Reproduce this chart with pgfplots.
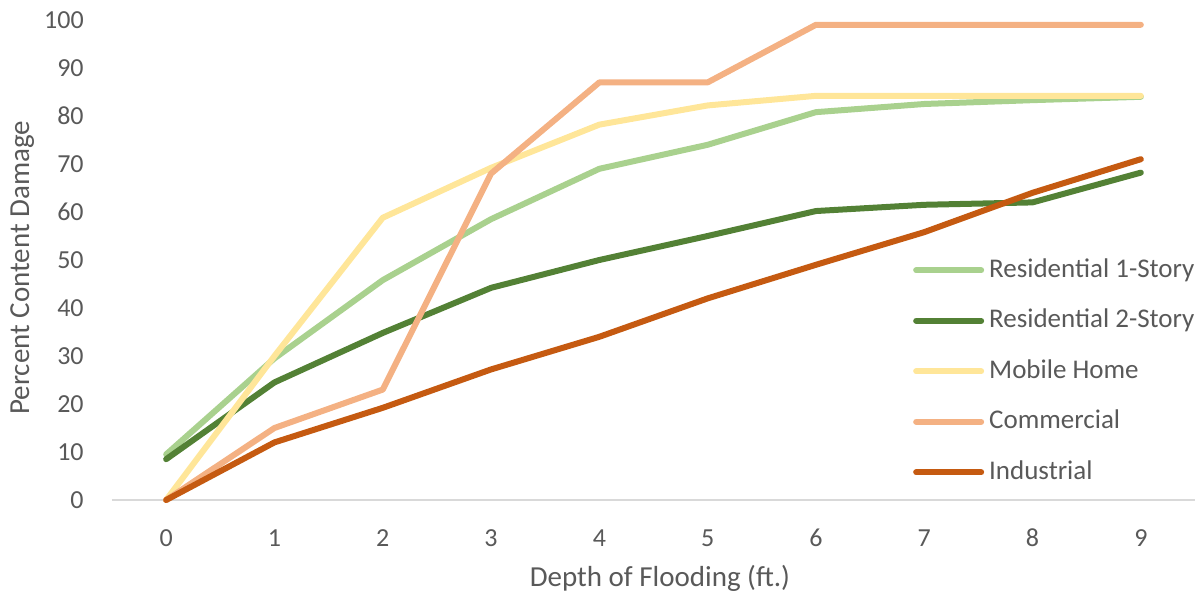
\documentclass[border=0pt]{standalone}
\usepackage{pgfplots}
\pgfplotsset{compat=1.18}
\usepackage{fontspec}
\setmainfont{Carlito}
\definecolor{resone}{HTML}{A9D18E}
\definecolor{restwo}{HTML}{538135}
\definecolor{mobile}{HTML}{FFE699}
\definecolor{comm}{HTML}{F4B183}
\definecolor{indus}{HTML}{C55A11}
\definecolor{txt}{HTML}{595959}
\definecolor{axl}{HTML}{D9D9D9}
\begin{document}
\begin{tikzpicture}
\begin{axis}[
  scale only axis,
  width=1083bp, height=480bp,
  xmin=-0.5, xmax=9.5, ymin=0, ymax=100,
  xtick={0,...,9}, ytick={0,10,...,100},
  axis x line=bottom, axis y line=left,
  x axis line style={draw=axl, line width=2bp, -},
  y axis line style={draw=none},
  tick style={draw=none},
  /pgf/number format/assume math mode=true,
  tick label style={font=\fontsize{26bp}{30bp}\selectfont, text=txt, inner sep=0pt},
  yticklabel style={anchor=east, xshift=-26bp},
  xticklabel style={anchor=center, yshift=-36bp},
  xlabel={Depth of Flooding (ft.)},
  ylabel={Percent Content Damage},
  every axis x label/.style={font=\fontsize{29bp}{34bp}\selectfont, text=txt, inner sep=0pt,
    at={(axis description cs:0.506,-0.1792)}, anchor=base},
  every axis y label/.style={font=\fontsize{29bp}{34bp}\selectfont, text=txt, inner sep=0pt,
    at={(axis description cs:-0.0766,0.484)}, rotate=90, anchor=base},
  clip=false,
  legend cell align=left,
  legend style={at={(axis description cs:0.7396,0.506)}, anchor=north west, draw=none, fill=none,
    font=\fontsize{27bp}{32bp}\selectfont, text=txt, row sep=24.5bp, column sep=5bp,
    inner sep=0pt, nodes={inner sep=0pt, text height=20bp, text depth=6bp}},
  legend image code/.code={\draw[#1, line cap=round] (0bp,0bp) -- (65bp,0bp);},
  every axis plot/.append style={line width=6bp, line join=round, line cap=round},
]
\addplot[resone] coordinates {(0,9.5) (1,29.5) (2,45.8) (3,58.5) (4,69) (5,74) (6,80.8) (7,82.5) (8,83.3) (9,84)};
\addlegendentry{Residential 1-Story}
\addplot[restwo] coordinates {(0,8.5) (1,24.5) (2,34.8) (3,44.2) (4,50) (5,55) (6,60.2) (7,61.5) (8,62) (9,68.2)};
\addlegendentry{Residential 2-Story}
\addplot[mobile] coordinates {(0,0) (1,30) (2,58.8) (3,69.2) (4,78.2) (5,82.2) (6,84.2) (7,84.2) (8,84.2) (9,84.2)};
\addlegendentry{Mobile Home}
\addplot[comm] coordinates {(0,0) (1,15) (2,23) (3,68) (4,87) (5,87) (6,99) (7,99) (8,99) (9,99)};
\addlegendentry{Commercial}
\addplot[indus] coordinates {(0,0) (1,12) (2,19.2) (3,27.2) (4,34) (5,42) (6,49) (7,55.8) (8,64) (9,71)};
\addlegendentry{Industrial}
\end{axis}
\pgfresetboundingbox
\path (-112bp,-96bp) rectangle (1092bp,500bp);
\end{tikzpicture}
\end{document}
